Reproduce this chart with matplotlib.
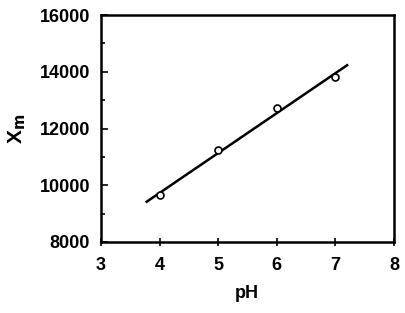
import matplotlib.pyplot as plt
from matplotlib.ticker import MultipleLocator

# data
ph = [4, 5, 6, 7]
xm = [9660, 11250, 12710, 13810]

# fitted line endpoints
fit_ph = [3.78, 7.2]
fit_xm = [9420, 14230]

plt.rcParams['font.family'] = ['Liberation Sans', 'DejaVu Sans']
plt.rcParams['font.weight'] = 'bold'

fig = plt.figure(figsize=(4.06, 3.13), dpi=100)
ax = fig.add_axes([101 / 406, 1 - 242 / 313, 293 / 406, 227 / 313])

ax.plot(fit_ph, fit_xm, color='black', lw=1.8)
ax.plot(ph, xm, 'o', ms=5, mfc='white', mec='black', mew=1.2)

ax.set_xlim(3, 8)
ax.set_ylim(8000, 16000)
ax.xaxis.set_major_locator(MultipleLocator(1))
ax.yaxis.set_major_locator(MultipleLocator(2000))
ax.yaxis.set_minor_locator(MultipleLocator(1000))

ax.tick_params(axis='x', direction='inout', length=6, width=1.2, labelsize=13, pad=8)
ax.tick_params(axis='y', which='major', direction='in', length=5, width=1.2, labelsize=13, pad=8)
ax.tick_params(axis='y', which='minor', direction='in', length=3, width=1.2)
for s in ax.spines.values():
    s.set_linewidth(1.8)

ax.set_xlabel('pH', fontsize=13, fontweight='bold')
ax.set_ylabel(r'X$_\mathbf{m}$', fontsize=15, fontweight='bold')
ax.xaxis.set_label_coords(0.498, -0.19)
ax.yaxis.set_label_coords(-0.25, 0.5)

fig.savefig('out.png', dpi=100)
